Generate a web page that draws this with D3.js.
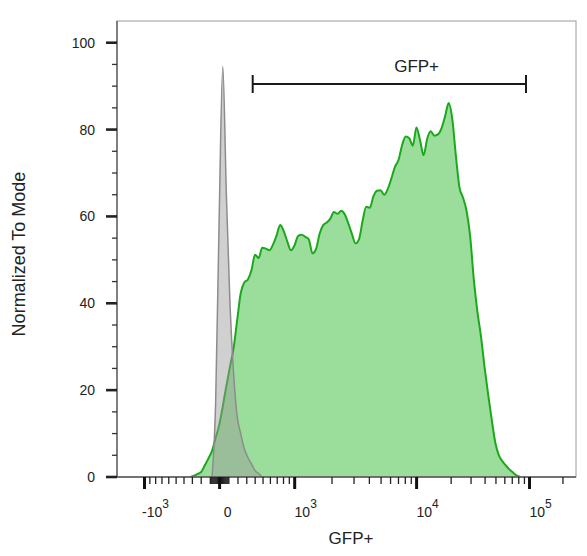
<!DOCTYPE html>
<html>
<head>
<meta charset="utf-8">
<script src="https://cdn.jsdelivr.net/npm/d3@7"></script>
<style>
    body { margin: 0; background: #fff; }
    text { font-family: Arial, "Liberation Sans", Helvetica, sans-serif; fill: #222; }
    .tick_lbl { font-size: 14px; }
    .axis_title { font-size: 17px; }
</style>
</head>
<body>
<svg id="chart" width="587" height="556"></svg>
<script>

// histogram, 128 channels spread evenly over the displayed logicle range
var binCount = 128;
var rangeMin = -1670;
var rangeMax = 262144;

// GFP+ sample (green), normalized to mode, starting at channel 20
var greenStart = 20;
var greenCounts = [
    0, 0.3, 0.7, 1.2, 2.7, 4.3, 6.0, 9.0, 12.0, 16.3,
    21.0, 25.4, 29.6, 36.0, 42.3, 44.8, 45.5, 47.6, 51.2, 50.4,
    52.8, 52.6, 52.2, 53.5, 55.6, 58.0, 56.6, 54.2, 52.2, 53.3,
    55.5, 55.8, 55.3, 54.7, 51.5, 52.5, 56.0, 58.0, 58.6, 59.5,
    61.0, 60.6, 61.3, 60.5, 58.4, 56.0, 53.8, 54.8, 59.0, 62.2,
    62.0, 64.6, 65.9, 66.0, 65.0, 66.3, 68.7, 71.4, 73.0, 76.4,
    78.4, 78.0, 76.3, 80.5, 77.6, 74.1, 77.9, 79.6, 78.6, 78.9,
    80.3, 83.1, 86.1, 82.4, 74.0, 66.7, 64.3, 61.2, 55.3, 45.5,
    38.1, 32.4, 25.3, 19.0, 13.2, 7.9, 5.0, 3.6, 2.6, 1.7,
    1.0, 0.3, 0
];

// unstained control (gray), starting at channel 26
var grayStart = 26;
var grayCounts = [0, 17, 60, 94.5, 65, 40, 24, 14, 10, 6.5, 4.5, 3, 1.5, 0.8, 0];

var yMajor = [0, 20, 40, 60, 80, 100];
var yMinorStep = 5;
var xMajor = [-1000, 0, 1000, 10000, 100000];
var xMajorBase = ["-10", "0", "10", "10", "10"];
var xMajorExp = ["3", "", "3", "4", "5"];

var gateName = "GFP+";
var gateLow = 370;
var gateHigh = 93000;
var gateLabelAt = 10000;

var xTitle = "GFP+";
var yTitle = "Normalized To Mode";

// biexponential (logicle style) transform
var LP = 2.3, LC = 156.6;
function biexS(u) {
    var a = Math.abs(u);
    var s = LC * (Math.exp(a) - LP * LP * Math.exp(-a / LP) + LP * LP - 1);
    return u < 0 ? -s : s;
}
function biexU(v) {
    var a = Math.abs(v), lo = 0, hi = 20;
    for (var k = 0; k < 60; k++) {
        var m = (lo + hi) / 2;
        if (biexS(m) < a) lo = m; else hi = m;
    }
    return v < 0 ? -lo : lo;
}
var uMin = biexU(rangeMin), uMax = biexU(rangeMax);
function channel(v) { return binCount * (biexU(v) - uMin) / (uMax - uMin); }

var margin = {top: 21, left: 117, right: 11, bottom: 79};
var svg = d3.select("#chart"),
    width = +svg.attr("width") - margin.left - margin.right,
    height = +svg.attr("height") - margin.top - margin.bottom;

var x = d3.scaleLinear().domain([0, binCount]).range([0, width]);
var y = d3.scaleLinear().domain([0, 105]).range([height, 0]);

var g = svg.append("g").attr("transform", "translate(" + margin.left + "," + margin.top + ")");

function toPoints(start, counts) {
    return counts.map(function(c, i) { return [start + i + 0.5, c]; });
}
var area = d3.area()
    .x(function(d) { return x(d[0]); })
    .y0(y(0))
    .y1(function(d) { return y(d[1]); })
    .curve(d3.curveMonotoneX);
var line = d3.line()
    .x(function(d) { return x(d[0]); })
    .y(function(d) { return y(d[1]); })
    .curve(d3.curveMonotoneX);

var greenPts = toPoints(greenStart, greenCounts);
var grayPts = toPoints(grayStart, grayCounts);

g.append("path").datum(greenPts).attr("d", area).attr("fill", "#9bde9b");
g.append("path").datum(greenPts).attr("d", line)
    .attr("fill", "none").attr("stroke", "#1ca81c").attr("stroke-width", 2);
g.append("path").datum(grayPts).attr("d", area).attr("fill", "rgba(150,150,150,0.45)");
g.append("path").datum(grayPts).attr("d", line)
    .attr("fill", "none").attr("stroke", "#8c8c8c").attr("stroke-width", 1.5);

// frame
g.append("rect").attr("x", 0).attr("y", 0).attr("width", width).attr("height", height)
    .attr("fill", "none").attr("stroke", "#9a9a9a").attr("stroke-width", 1);
g.append("line").attr("x1", 0).attr("x2", 0).attr("y1", 0).attr("y2", height)
    .attr("stroke", "#666").attr("stroke-width", 1.5);
g.append("line").attr("x1", 0).attr("x2", width).attr("y1", height).attr("y2", height)
    .attr("stroke", "#555").attr("stroke-width", 1.5);

// y axis ticks
var yMinor = d3.range(0, 100 + 1e-9, yMinorStep).filter(function(v) { return yMajor.indexOf(v) < 0; });
g.selectAll("line.ymin").data(yMinor).enter().append("line")
    .attr("x1", -5).attr("x2", 0)
    .attr("y1", function(d) { return y(d); }).attr("y2", function(d) { return y(d); })
    .attr("stroke", "#333").attr("stroke-width", 1.3);
g.selectAll("line.ymaj").data(yMajor).enter().append("line")
    .attr("x1", -11).attr("x2", 0)
    .attr("y1", function(d) { return y(d); }).attr("y2", function(d) { return y(d); })
    .attr("stroke", "#222").attr("stroke-width", 2.6);
g.selectAll("text.ylbl").data(yMajor).enter().append("text")
    .attr("class", "tick_lbl")
    .attr("x", -22).attr("y", function(d) { return y(d) + 5; })
    .attr("text-anchor", "end")
    .text(function(d) { return d; });

// x axis ticks
var xMinor = [];
[10, 100, 1000, 10000, 100000].forEach(function(dec) {
    for (var m = 1; m <= 9; m++) {
        var v = m * dec;
        if (xMajor.indexOf(v) < 0 && v <= rangeMax) xMinor.push(v);
        if (xMajor.indexOf(-v) < 0 && -v >= rangeMin) xMinor.push(-v);
    }
});
g.selectAll("line.xmin").data(xMinor).enter().append("line")
    .attr("x1", function(d) { return x(channel(d)); }).attr("x2", function(d) { return x(channel(d)); })
    .attr("y1", height).attr("y2", height + 7)
    .attr("stroke", "#222").attr("stroke-width", 1.3);
g.selectAll("line.xmaj").data(xMajor).enter().append("line")
    .attr("x1", function(d) { return x(channel(d)); }).attr("x2", function(d) { return x(channel(d)); })
    .attr("y1", height).attr("y2", height + 12)
    .attr("stroke", "#111").attr("stroke-width", 3);

var xl = g.selectAll("text.xlbl").data(xMajor).enter().append("text")
    .attr("class", "tick_lbl")
    .attr("x", function(d, i) { return x(channel(d)) + (xMajorExp[i] ? 11 : 8); })
    .attr("y", height + 40)
    .attr("text-anchor", "middle");
xl.append("tspan").text(function(d, i) { return xMajorBase[i]; });
xl.append("tspan").attr("dy", -9).style("font-size", "12px")
    .text(function(d, i) { return xMajorExp[i]; });

// gate
var gx1 = x(channel(gateLow)), gx2 = x(channel(gateHigh)), gy = 63;
var gate = g.append("g").attr("stroke", "#1a1a1a").attr("stroke-width", 2);
gate.append("line").attr("x1", gx1).attr("x2", gx2).attr("y1", gy).attr("y2", gy);
gate.append("line").attr("x1", gx1).attr("x2", gx1).attr("y1", gy - 9).attr("y2", gy + 9);
gate.append("line").attr("x1", gx2).attr("x2", gx2).attr("y1", gy - 9).attr("y2", gy + 9);
g.append("text").attr("class", "axis_title")
    .attr("x", x(channel(gateLabelAt))).attr("y", gy - 12)
    .attr("text-anchor", "middle").text(gateName);

// axis titles
svg.append("text").attr("class", "axis_title")
    .attr("x", 351).attr("y", 544).attr("text-anchor", "middle").text(xTitle);
svg.append("text").attr("class", "axis_title")
    .style("font-size", "18px")
    .attr("transform", "translate(25,254) rotate(-90)")
    .attr("text-anchor", "middle").text(yTitle);

</script>
</body>
</html>
